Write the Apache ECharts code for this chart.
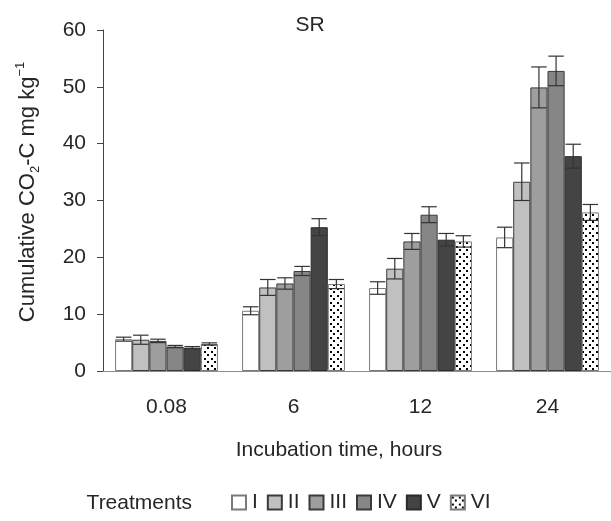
<!DOCTYPE html>
<html>
<head>
<meta charset="utf-8">
<script src="https://cdn.jsdelivr.net/npm/echarts@6/dist/echarts.min.js"></script>
<style>html,body{margin:0;padding:0;background:#fff}#c{width:611px;height:521px}</style>
</head>
<body>
<div id="c"></div>
<script>
const categories = ['0.08', '6', '12', '24'];
const treatments = ['I', 'II', 'III', 'IV', 'V', 'VI'];
const valI   = [5.6, 10.6, 14.6, 23.5];
const valII  = [5.5, 14.7, 18.0, 33.3];
const valIII = [5.3, 15.4, 22.8, 49.9];
const valIV  = [4.3, 17.6, 27.5, 52.8];
const valV   = [4.1, 25.3, 23.1, 37.8];
const valVI  = [4.75, 15.3, 22.8, 27.9];
const errI   = [0.35, 0.7, 1.1, 1.8];
const errII  = [0.8, 1.4, 1.8, 3.3];
const errIII = [0.3, 1.0, 1.4, 3.6];
const errIV  = [0.2, 0.8, 1.4, 2.6];
const errV   = [0.2, 1.5, 1.1, 2.1];
const errVI  = [0.2, 0.8, 1.0, 1.4];
const yTicks = [0, 10, 20, 30, 40, 50, 60];

const values = [valI, valII, valIII, valIV, valV, valVI];
const errors = [errI, errII, errIII, errIV, errV, errVI];

// dotted pattern for VI
const pc = document.createElement('canvas');
pc.width = 7; pc.height = 7;
const px = pc.getContext('2d');
px.fillStyle = '#fff'; px.fillRect(0, 0, 7, 7);
px.fillStyle = '#000';
px.fillRect(1, 1, 2, 2);
px.fillRect(4, 4, 2, 2);

const fills = ['#ffffff', '#c0c0c0', '#9e9e9e', '#868686', '#444444', {image: pc, repeat: 'repeat'}];
const borders = ['#7a7a7a', '#3a3a3a', '#3a3a3a', '#3a3a3a', '#2a2a2a', '#7a7a7a'];
const FONT = '"Liberation Sans", Arial, sans-serif';
const TXT = '#262626';
const CAT_GAP = 0.19;

const barSeries = treatments.map((t, i) => ({
  name: t,
  type: 'bar',
  data: values[i],
  barGap: '0%',
  barCategoryGap: (CAT_GAP * 100) + '%',
  itemStyle: {color: fills[i], borderColor: borders[i], borderWidth: 1},
  emphasis: {disabled: true},
  z: 2
}));

const errData = [];
treatments.forEach((t, i) => {
  categories.forEach((c, j) => {
    errData.push([j, values[i][j], errors[i][j], i]);
  });
});

const errSeries = {
  type: 'custom',
  name: 'err',
  data: errData,
  encode: {x: 0, y: 1},
  z: 5,
  silent: true,
  renderItem: function (params, api) {
    const cat = api.value(0), v = api.value(1), e = api.value(2), s = api.value(3);
    const cw = api.size([1, 0])[0];
    const bw = cw * (1 - CAT_GAP) / 6;
    const cx = api.coord([cat, v])[0] + (s - 2.5) * bw;
    const yHi = api.coord([cat, v + e])[1];
    const yLo = api.coord([cat, v - e])[1];
    const hw = bw * 0.45;
    const st = {stroke: '#333', lineWidth: 1.2};
    return {
      type: 'group',
      children: [
        {type: 'line', shape: {x1: cx, y1: yHi, x2: cx, y2: yLo}, style: st},
        {type: 'line', shape: {x1: cx - hw, y1: yHi, x2: cx + hw, y2: yHi}, style: st},
        {type: 'line', shape: {x1: cx - hw, y1: yLo, x2: cx + hw, y2: yLo}, style: st}
      ]
    };
  }
};

const chart = echarts.init(document.getElementById('c'));
chart.setOption({
  animation: false,
  backgroundColor: '#fff',
  textStyle: {fontFamily: FONT},
  grid: {left: 103, top: 30, bottom: 150, width: 516, containLabel: false},
  xAxis: {
    type: 'category',
    data: categories,
    axisLine: {lineStyle: {color: '#8c8c8c', width: 1}},
    axisTick: {length: 6, lineStyle: {color: '#333'}},
    axisLabel: {fontSize: 21, color: TXT, margin: 26, fontFamily: FONT},
    splitLine: {show: false}
  },
  yAxis: {
    type: 'value',
    min: yTicks[0],
    max: yTicks[yTicks.length - 1],
    interval: 10,
    axisLine: {show: true, lineStyle: {color: '#444', width: 1}},
    axisTick: {show: true, length: 6, lineStyle: {color: '#444'}},
    axisLabel: {fontSize: 21, color: TXT, margin: 17, fontFamily: FONT},
    splitLine: {show: false}
  },
  legend: {
    data: treatments,
    left: 231,
    top: 492,
    padding: 0,
    itemWidth: 14,
    itemHeight: 14,
    itemGap: 9,
    icon: 'rect',
    selectedMode: false,
    textStyle: {fontSize: 21, color: TXT, fontFamily: FONT, padding: [0, 0, 0, 1]}
  },
  graphic: [
    {type: 'text', style: {text: 'SR', x: 310, y: 25.5, align: 'center', verticalAlign: 'middle', fontSize: 21, fill: TXT, fontFamily: FONT}},
    {type: 'text', style: {text: 'Incubation time, hours', x: 339, y: 450, align: 'center', verticalAlign: 'middle', fontSize: 21, fill: TXT, fontFamily: FONT}},
    {type: 'text', style: {text: 'Treatments', x: 192, y: 503, align: 'right', verticalAlign: 'middle', fontSize: 21, fill: TXT, fontFamily: FONT}},
    {
      type: 'text',
      x: 28, y: 192, rotation: Math.PI / 2,
      style: {
        text: '{a|Cumulative CO}{sub|2}{a|-C mg kg}{sup|−1}',
        align: 'center', verticalAlign: 'middle',
        fontFamily: FONT, fill: TXT,
        rich: {
          a: {fontSize: 22, fill: TXT, fontFamily: FONT, lineHeight: 28, verticalAlign: 'middle'},
          sub: {fontSize: 13, fill: TXT, fontFamily: FONT, lineHeight: 28, verticalAlign: 'bottom'},
          sup: {fontSize: 13, fill: TXT, fontFamily: FONT, lineHeight: 28, verticalAlign: 'top'}
        }
      }
    }
  ],
  series: barSeries.concat([errSeries])
});
</script>
</body>
</html>
